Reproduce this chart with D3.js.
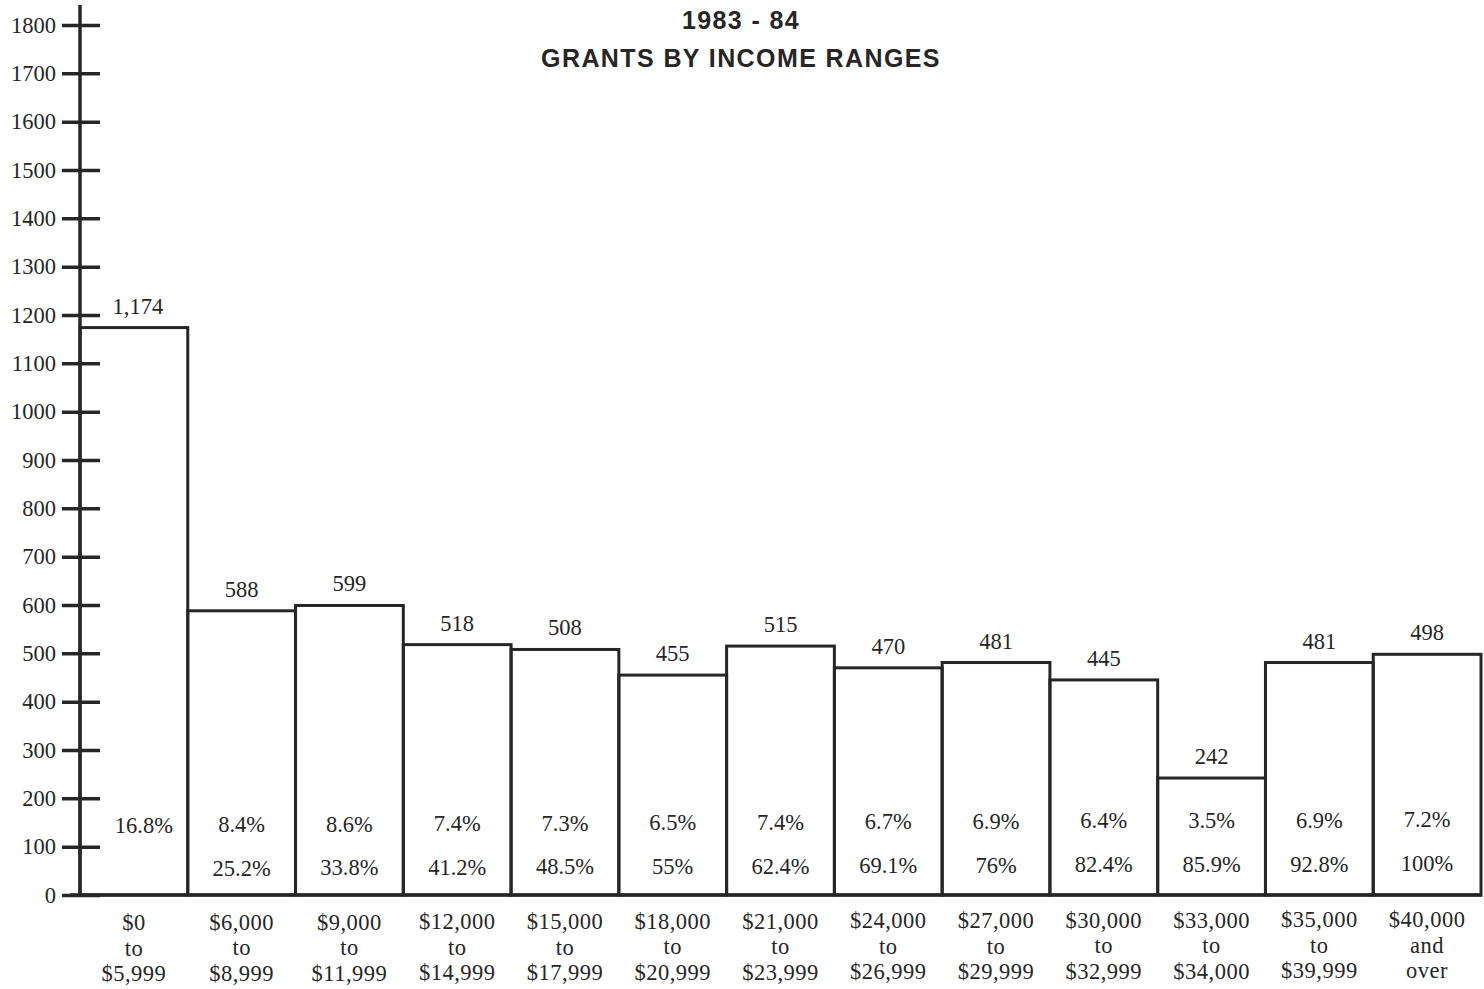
<!DOCTYPE html>
<html><head><meta charset="utf-8">
<script src="https://cdn.jsdelivr.net/npm/d3@7/dist/d3.min.js"></script>
<style>body{margin:0;background:#fff}svg{display:block}</style>
</head><body>
<svg id="c" width="1484" height="989"></svg>
<script>
const catFrom = ["$0","$6,000","$9,000","$12,000","$15,000","$18,000","$21,000","$24,000","$27,000","$30,000","$33,000","$35,000","$40,000"];
const catMid  = ["to","to","to","to","to","to","to","to","to","to","to","to","and"];
const catTo   = ["$5,999","$8,999","$11,999","$14,999","$17,999","$20,999","$23,999","$26,999","$29,999","$32,999","$34,000","$39,999","over"];
const grants  = [1174,588,599,518,508,455,515,470,481,445,242,481,498];
const grantLabels = ["1,174","588","599","518","508","455","515","470","481","445","242","481","498"];
const sharePct = ["16.8%","8.4%","8.6%","7.4%","7.3%","6.5%","7.4%","6.7%","6.9%","6.4%","3.5%","6.9%","7.2%"];
const cumPct   = ["","25.2%","33.8%","41.2%","48.5%","55%","62.4%","69.1%","76%","82.4%","85.9%","92.8%","100%"];
const yTicks = d3.range(0,1801,100);
const titleLines = ["1983 - 84","GRANTS BY INCOME RANGES"];

const svg = d3.select("#c");
const ink = "#262626";
const serif = "'Liberation Serif','Times New Roman',serif";
const fs = 22.5;
const x = d3.scaleBand().domain(d3.range(catFrom.length)).range([80,1481]).padding(0);
const y = d3.scaleLinear().domain([0,1800]).range([895,25]);

// title
svg.selectAll("text.title").data(titleLines).join("text")
  .attr("x",741).attr("y",(d,i)=>29+i*38).attr("text-anchor","middle")
  .attr("font-family","'Liberation Sans',Arial,sans-serif").attr("font-weight","bold")
  .attr("font-size",25).attr("letter-spacing",1.4).attr("fill",ink).text(d=>d);

// bars
svg.selectAll("rect.bar").data(grants).join("rect")
  .attr("x",(d,i)=>x(i)).attr("y",d=>y(d))
  .attr("width",x.bandwidth()).attr("height",d=>y(0)-y(d))
  .attr("fill","none").attr("stroke",ink).attr("stroke-width",3);

// axis
const axis = d3.axisLeft(y).tickValues(yTicks).tickSize(0).tickPadding(0).tickFormat(d3.format("d"));
const ag = svg.append("g").attr("transform","translate(80,0)").call(axis);
ag.select(".domain").remove();
ag.selectAll(".tick text").attr("x",-24).attr("font-family",serif).attr("font-size",fs).attr("fill",ink);
ag.selectAll(".tick").append("line").attr("x1",-18).attr("x2",20).attr("stroke",ink).attr("stroke-width",3.5);
svg.append("line").attr("x1",80).attr("x2",80).attr("y1",5).attr("y2",y(0)+1).attr("stroke",ink).attr("stroke-width",3.5);
svg.append("line").attr("x1",70).attr("x2",1482).attr("y1",y(0)).attr("y2",y(0)).attr("stroke",ink).attr("stroke-width",3.5);

// value labels
svg.selectAll("text.val").data(grantLabels).join("text")
  .attr("x",(d,i)=>x(i)+x.bandwidth()/2 + (i===0?4:0)).attr("y",(d,i)=>y(grants[i])-14)
  .attr("text-anchor","middle").attr("font-family",serif).attr("font-size",fs).attr("fill",ink).text(d=>d);

// percent labels
svg.selectAll("text.sh").data(sharePct).join("text")
  .attr("x",(d,i)=>x(i)+x.bandwidth()/2 + (i===0?10:0)).attr("y",(d,i)=>y(150)+10-i*0.45)
  .attr("text-anchor","middle").attr("font-family",serif).attr("font-size",fs).attr("fill",ink).text(d=>d);
svg.selectAll("text.cu").data(cumPct).join("text")
  .attr("x",(d,i)=>x(i)+x.bandwidth()/2).attr("y",(d,i)=>y(60)+10-i*0.4)
  .attr("text-anchor","middle").attr("font-family",serif).attr("font-size",fs).attr("fill",ink).text(d=>d);

// category labels
[catFrom,catMid,catTo].forEach((arr,k)=>{
  svg.selectAll("text.cat"+k).data(arr).join("text")
    .attr("x",(d,i)=>x(i)+x.bandwidth()/2).attr("y",(d,i)=>930+k*25.5 - i*0.25)
    .attr("text-anchor","middle").attr("font-family",serif).attr("font-size",fs)
    .attr("letter-spacing",0.5).attr("fill",ink).text(d=>d);
});
</script>
</body></html>
